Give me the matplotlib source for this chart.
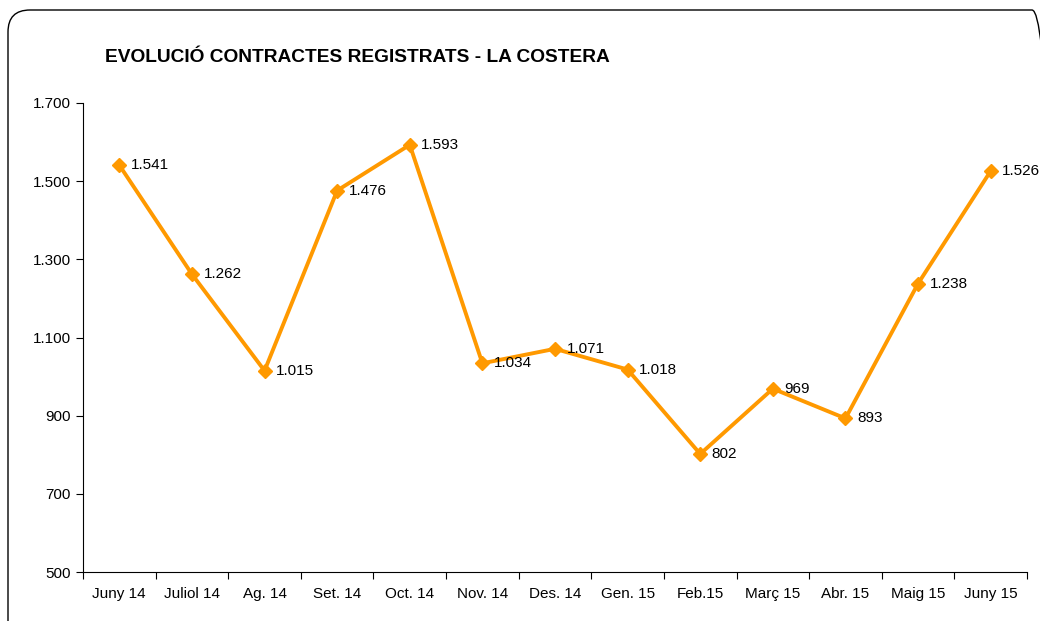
import matplotlib.pyplot as plt
from matplotlib.patches import FancyBboxPatch
from matplotlib.ticker import FuncFormatter

# ===== Dades =====
mesos = ['Juny 14', 'Juliol 14', 'Ag. 14', 'Set. 14', 'Oct. 14', 'Nov. 14', 'Des. 14',
         'Gen. 15', 'Feb.15', 'Març 15', 'Abr. 15', 'Maig 15', 'Juny 15']
contractes = [1541, 1262, 1015, 1476, 1593, 1034, 1071, 1018, 802, 969, 893, 1238, 1526]
y_ticks = [500, 700, 900, 1100, 1300, 1500, 1700]

plt.rcParams['font.family'] = ['Liberation Sans', 'DejaVu Sans']


def punts(v):
    # separador de milers amb punt
    return f'{int(v):,}'.replace(',', '.')


fig = plt.figure(figsize=(10.4, 6.21), dpi=100)
ax = fig.add_axes([83 / 1040, 1 - 572 / 621, (1027 - 83) / 1040, (572 - 103) / 621])

# marc arrodonit (surt per la dreta i per baix), en polzades
marc = FancyBboxPatch((0.08, -0.25), 10.54 - 0.08, 6.11 + 0.25,
                      boxstyle='round,pad=0,rounding_size=0.22',
                      transform=fig.dpi_scale_trans, fill=False,
                      edgecolor='black', linewidth=1.0)
fig.patches.append(marc)

x = list(range(len(mesos)))
ax.plot(x, contractes, color='#FF9900', linewidth=2.8, marker='D',
        markersize=7.5, markerfacecolor='#FF9900', markeredgecolor='#FF9900')

for xi, v in zip(x, contractes):
    ax.annotate(punts(v), (xi, v), xytext=(8.3, 0), textcoords='offset points',
                ha='left', va='center', fontsize=11)

ax.set_xlim(-0.5, len(mesos) - 0.5)
ax.set_ylim(500, 1700)
ax.set_yticks(y_ticks)
ax.yaxis.set_major_formatter(FuncFormatter(lambda v, p: punts(v)))

ax.set_xticks([i - 0.5 for i in range(len(mesos) + 1)])
ax.set_xticklabels([])
ax.set_xticks(x, minor=True)
ax.set_xticklabels(mesos, minor=True)
ax.tick_params(axis='x', which='minor', length=0, pad=11, labelsize=11)
ax.tick_params(axis='x', which='major', length=5, direction='out')
ax.tick_params(axis='y', length=5, direction='out', labelsize=11, pad=4)

ax.spines['top'].set_visible(False)
ax.spines['right'].set_visible(False)

fig.text(105 / 1040, 1 - 57 / 621, 'EVOLUCIÓ CONTRACTES REGISTRATS - LA COSTERA',
         fontsize=13.8, fontweight='bold', ha='left', va='center')

plt.savefig('out.png', dpi=100)
